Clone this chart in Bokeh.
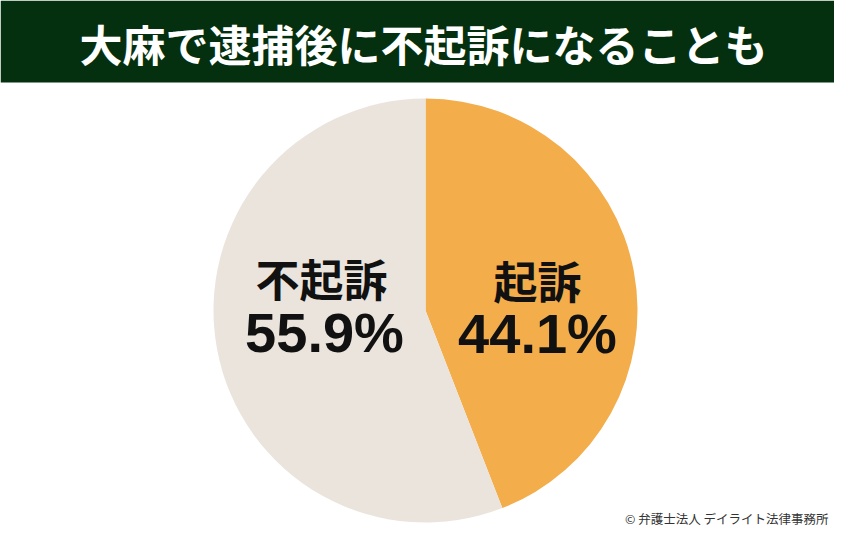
import numpy as np
from bokeh.plotting import figure
from bokeh.models import Range1d, ColumnDataSource
from bokeh.core.properties import value
from bokeh.embed import file_html
from bokeh.resources import INLINE

# ---- data ----
title = "大麻で逮捕後に不起訴になることも"
labels = ["起訴", "不起訴"]
pct_text = ["44.1%", "55.9%"]
shares = [44.1, 55.9]
colors = ["#F3AD4A", "#EAE4DD"]
credit = "© 弁護士法人 デイライト法律事務所"

W, H = 850, 548  # reference canvas (image pixel coordinates)
FW, FH = 834, 532

p = figure(width=FW, height=FH, output_backend="svg", toolbar_location=None,
           x_range=Range1d(0, FW), y_range=Range1d(H - FH, H),
           min_border=0, background_fill_color="white", border_fill_color="white")
p.axis.visible = False
p.grid.visible = False
p.outline_line_color = None

def Y(yimg):
    return H - yimg

# title bar
p.quad(left=[0], right=[W], bottom=[Y(82)], top=[Y(0)], fill_color="#05300F", line_color=None)
p.text(x=[423], y=[Y(42)], text=[title], text_align="center", text_baseline="middle",
       text_font=value("Noto Sans CJK JP"), text_font_style="bold", text_font_size="43px",
       text_color="white")

# pie
cx, cy, r = 425, Y(310), 212
fr = np.array(shares) / sum(shares)
cum = np.concatenate([[0], np.cumsum(fr)])
start = np.pi / 2 - cum[:-1] * 2 * np.pi
end = np.pi / 2 - cum[1:] * 2 * np.pi
src = ColumnDataSource(dict(start=start, end=end, color=colors))
p.wedge(x=cx, y=cy, radius=r, start_angle="start", end_angle="end", direction="clock",
        fill_color="color", line_color=None, source=src)

# labels
p.text(x=[537, 321], y=[Y(279), Y(277)], text=labels, text_align="center", text_baseline="middle",
       text_font=value("Noto Sans CJK JP"), text_font_style="bold", text_font_size="44px",
       text_color="#111111")
p.text(x=[537, 324], y=[Y(333), Y(332)], text=pct_text, text_align="center", text_baseline="middle",
       text_font=value("Liberation Sans"), text_font_style="bold", text_font_size="56px",
       text_color="#111111")

# credit
p.text(x=[828], y=[Y(518)], text=[credit], text_align="right", text_baseline="middle",
       text_font=value("Noto Sans CJK JP"), text_font_size="12.5px", text_color="#333333")

open("out.html", "w").write(file_html(p, INLINE))
